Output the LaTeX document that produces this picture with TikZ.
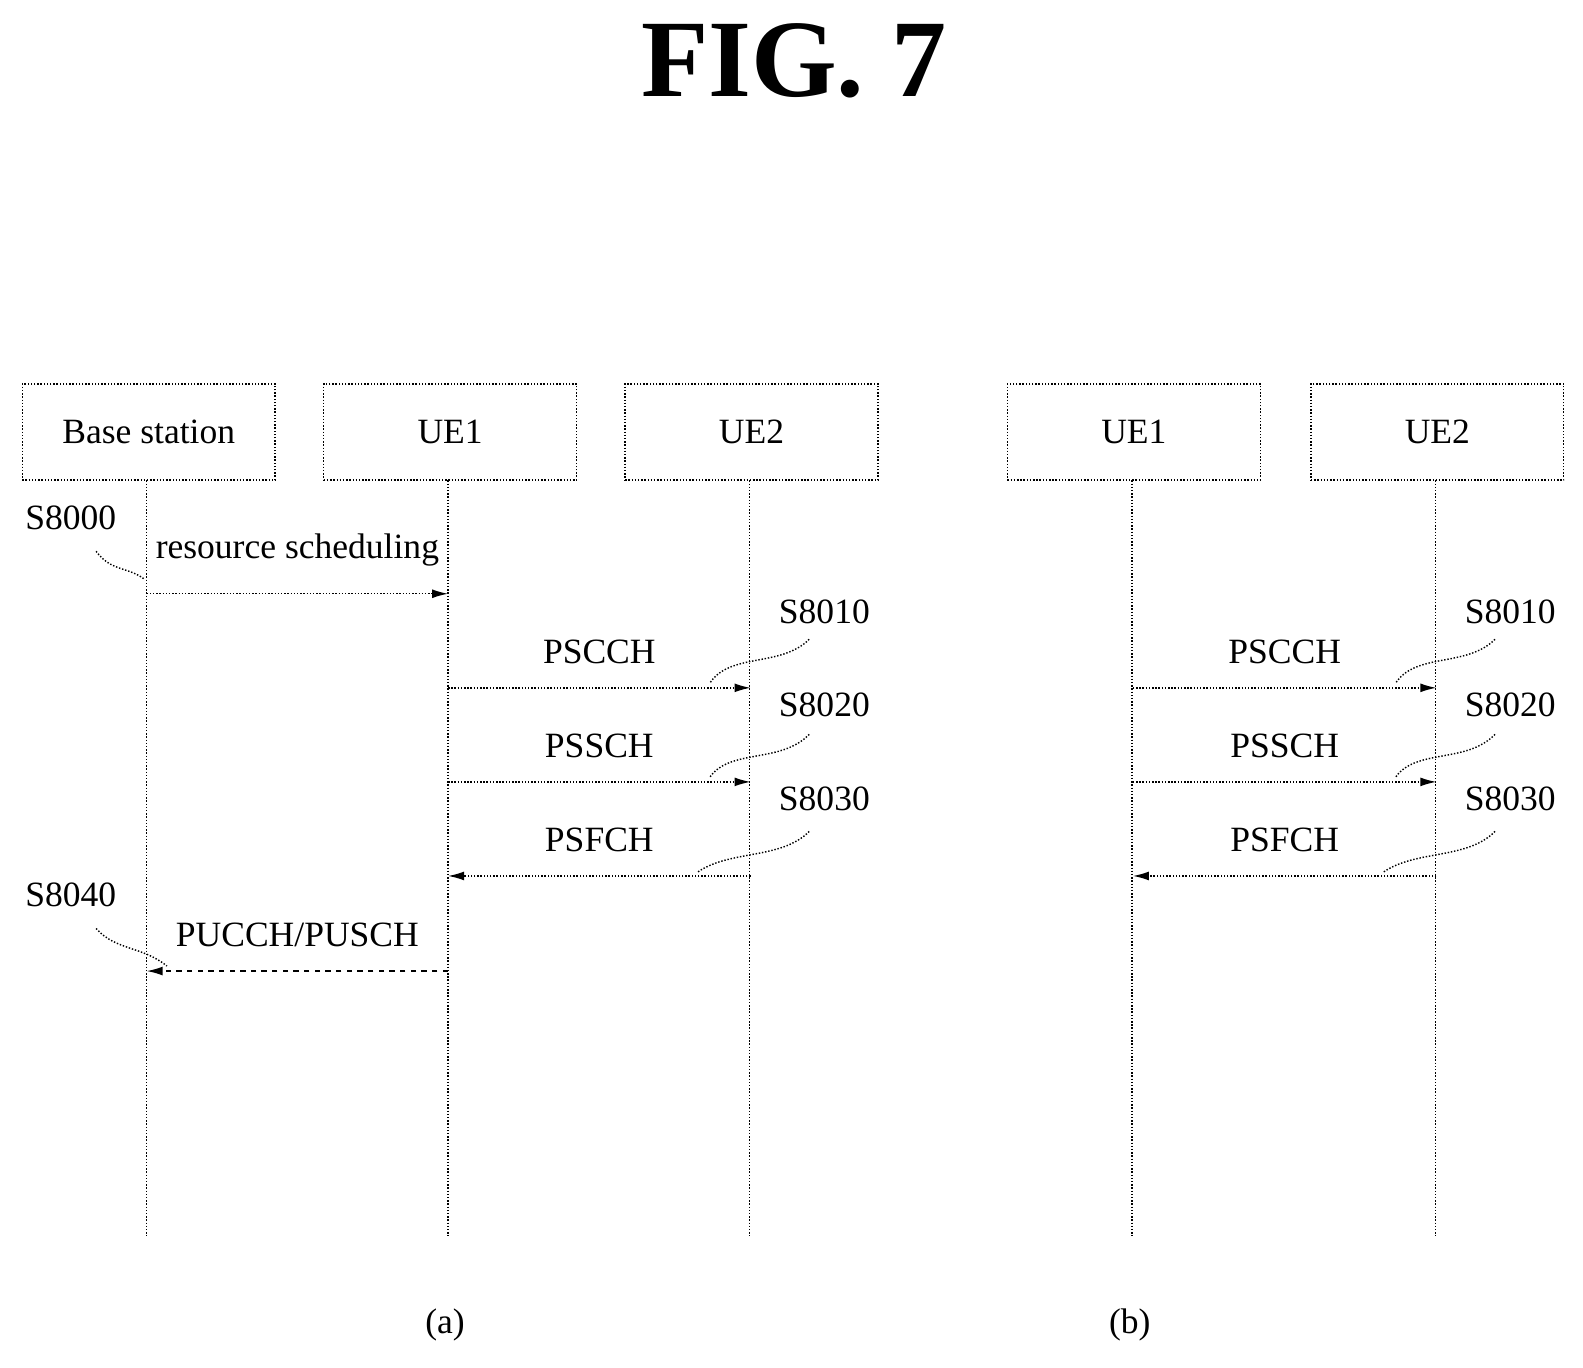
\documentclass[tikz,border=0pt]{standalone}
\usepackage{fontspec}
\setmainfont{Liberation Serif}
\usetikzlibrary{arrows.meta}
\begin{document}
\begin{tikzpicture}[x=0.02cm,y=-0.02cm,
 box/.style={draw,thick,densely dotted,minimum width=5cm,minimum height=1.9cm,inner sep=0,font=\fontsize{20}{20}\selectfont},
 life/.style={densely dotted,thick},
 msg/.style={densely dotted,thick,-{Latex[length=9pt,width=5pt]}},
 lab/.style={font=\fontsize{20}{20}\selectfont},
 lead/.style={densely dotted,thick}]
\useasboundingbox (0,0) rectangle (1565,1352);
\node[font=\bfseries\fontsize{62}{62}\selectfont] (fig) at (785,60) {FIG. 7};
\foreach \n/\x/\t in {bs/147/Base station,ua/445/UE1,va/743/UE2,ub/1121/UE1,vb/1421/UE2}{
 \node[box] (\n) at (\x,427) {\t};
 \coordinate (\n e) at (\x-2,1222);
 \coordinate (\n t) at (\x-2,475);
 \draw[life] (\n t) -- (\n e);
}
\coordinate (a1) at (145,587); \coordinate (a2) at (443,587);
\draw[msg] (a1) -- (a2) node[lab,midway,above=12pt] (l1) {resource scheduling};
\node[lab] (s0) at (70,512) {S8000};
\coordinate (s0a) at (95,545); \coordinate (s0b) at (142,572);
\draw[lead] (s0a) .. controls (110,565) and (125,560) .. (s0b);
\foreach \xa/\xb/\n in {443/742/A,1120/1420/B}{
 \coordinate (\n1) at (\xa,680); \coordinate (\n2) at (\xb,680);
 \draw[msg] (\n1) -- (\n2) node[lab,midway,above=10pt] {PSCCH};
 \node[lab] (\n s1) at (\xb+73,605) {S8010};
 \coordinate (\n q1) at (\xb+58,632);
 \draw[lead] (\n q1) .. controls (\xb+30,660) and (\xb-20,645) .. (\xb-40,675);
 \coordinate (\n3) at (\xa,773); \coordinate (\n4) at (\xb,773);
 \draw[msg] (\n3) -- (\n4) node[lab,midway,above=10pt] {PSSCH};
 \node[lab] (\n s2) at (\xb+73,697) {S8020};
 \coordinate (\n q2) at (\xb+58,726);
 \draw[lead] (\n q2) .. controls (\xb+30,755) and (\xb-20,740) .. (\xb-40,768);
 \coordinate (\n5) at (\xb,866); \coordinate (\n6) at (\xa,866);
 \draw[msg] (\n5) -- (\n6) node[lab,midway,above=10pt] {PSFCH};
 \node[lab] (\n s3) at (\xb+73,790) {S8030};
 \coordinate (\n q3) at (\xb+58,822);
 \draw[lead] (\n q3) .. controls (\xb+30,850) and (\xb-20,840) .. (\xb-52,862);
}
\coordinate (p1) at (443,960); \coordinate (p2) at (145,960);
\draw[thick,dashed,-{Latex[length=9pt,width=5pt]}] (p1) -- (p2) node[lab,midway,above=10pt] {PUCCH/PUSCH};
\node[lab] (s4) at (70,885) {S8040};
\coordinate (s4a) at (95,918); \coordinate (s4b) at (165,955);
\draw[lead] (s4a) .. controls (115,940) and (140,935) .. (s4b);
\node[lab] (ca) at (440,1310) {(a)};
\node[lab] (cb) at (1117,1310) {(b)};
\end{tikzpicture}
\end{document}
